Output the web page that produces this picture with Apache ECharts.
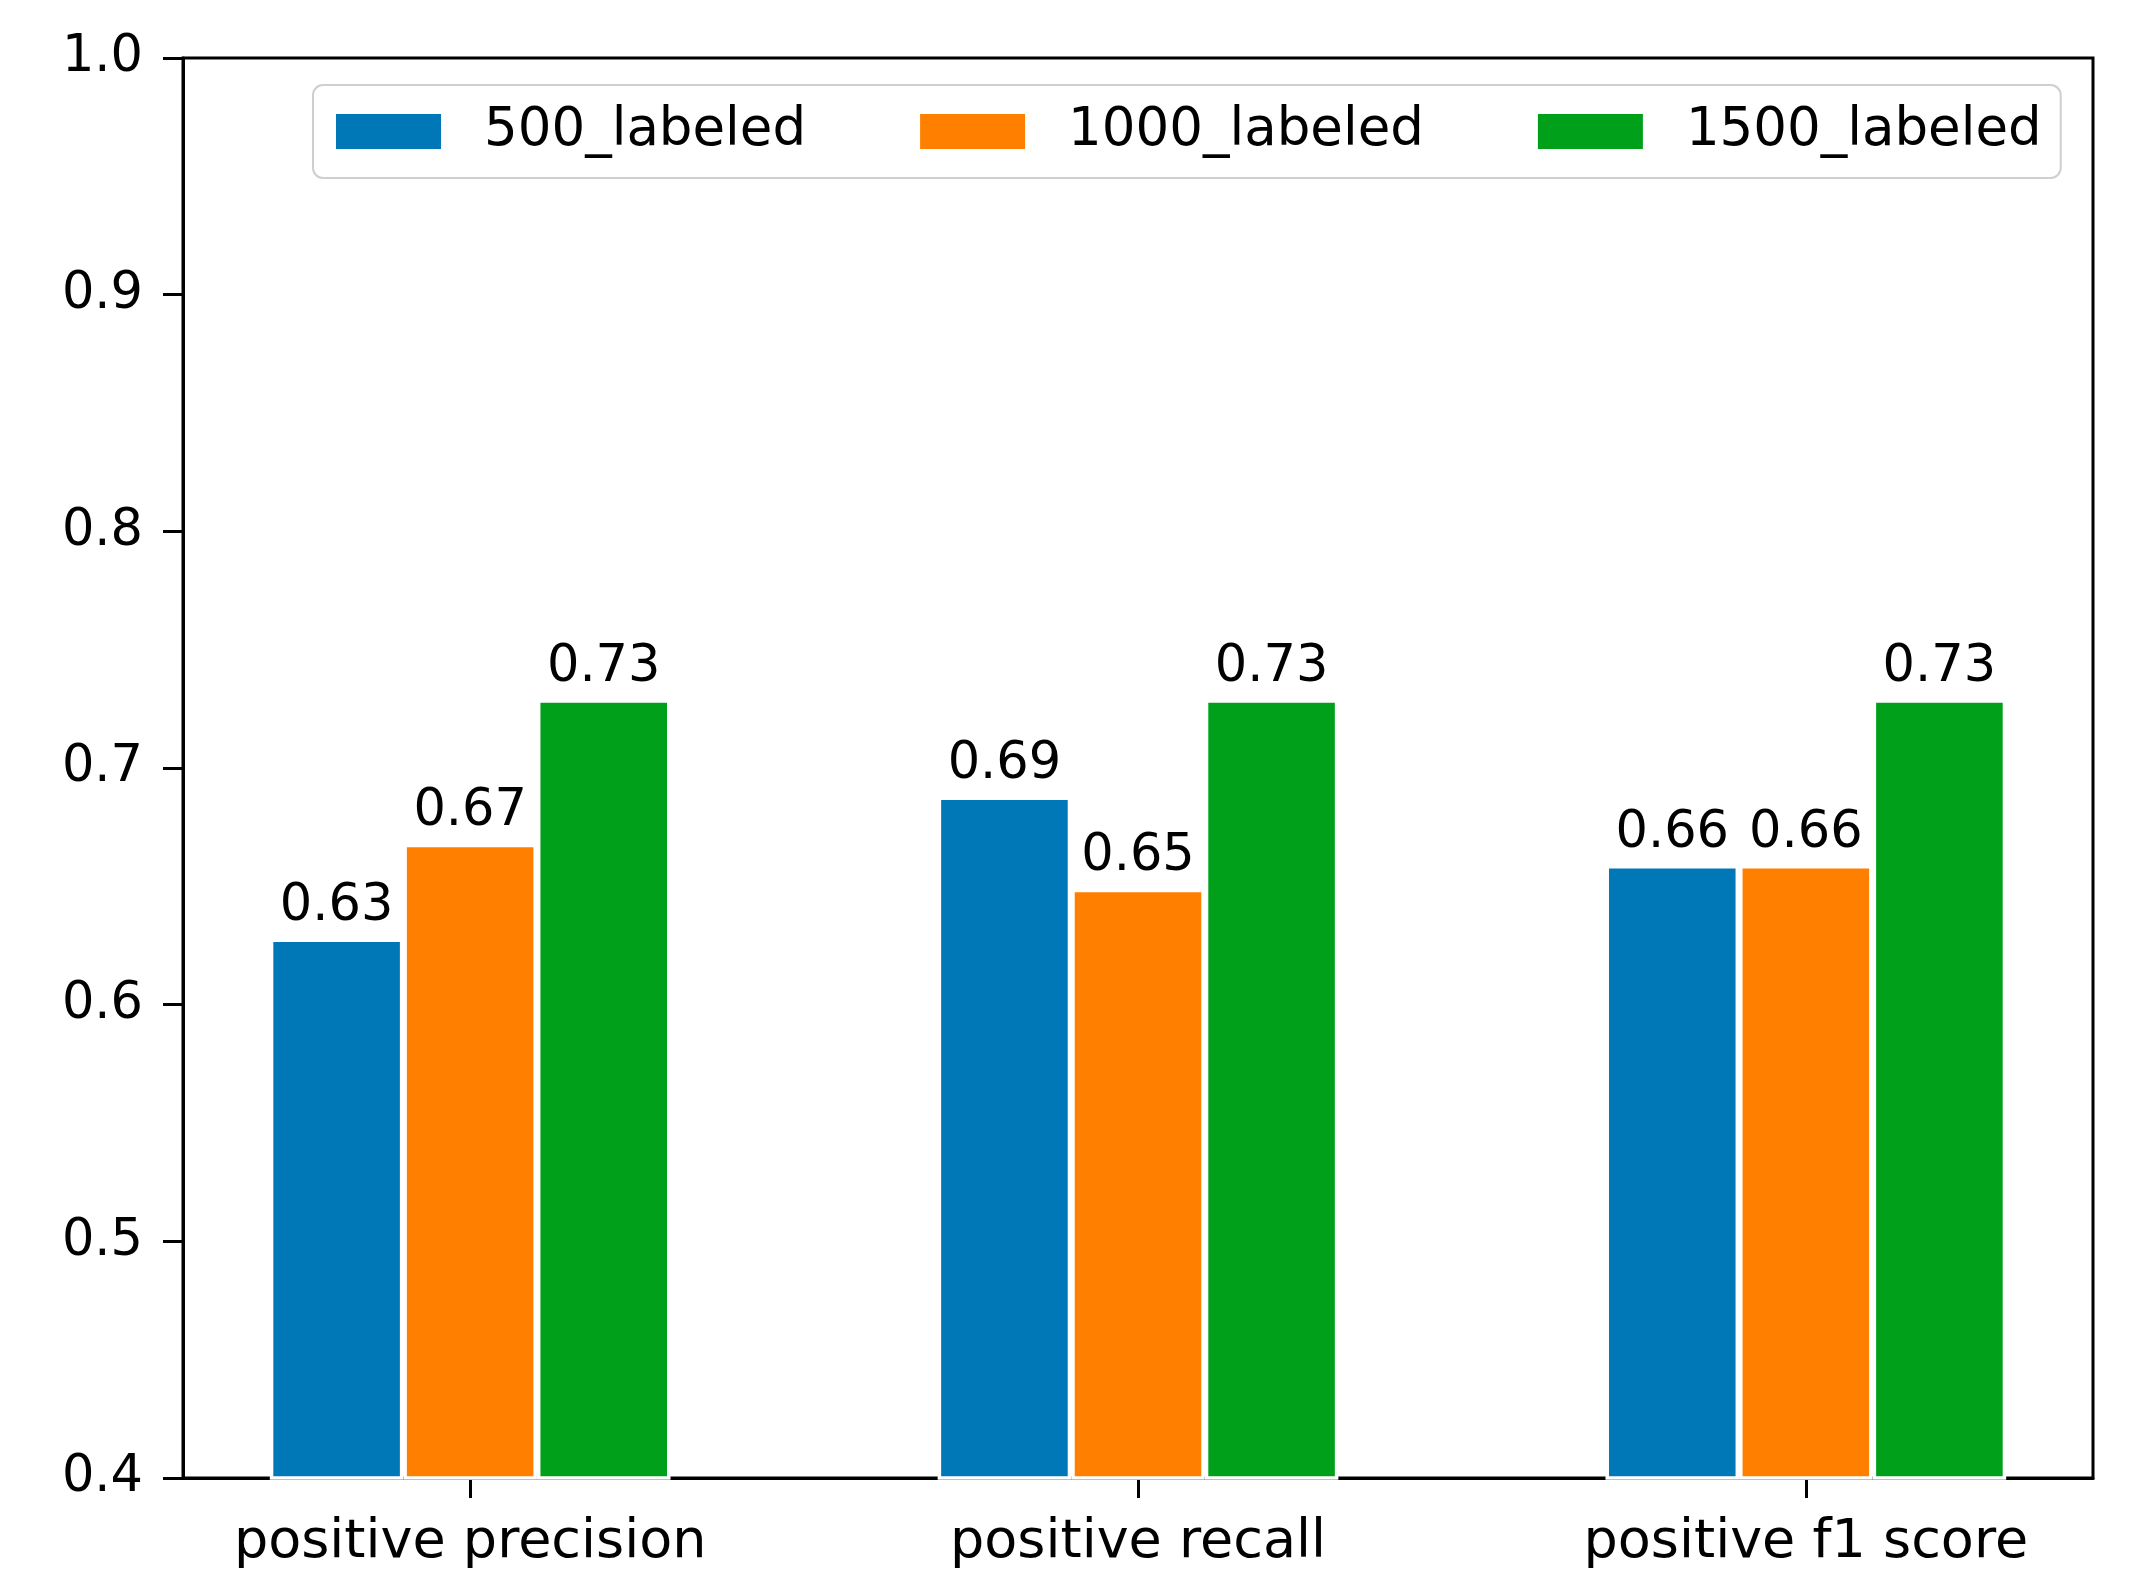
<!DOCTYPE html>
<html>
<head>
<meta charset="utf-8">
<script src="https://cdn.jsdelivr.net/npm/echarts@6/dist/echarts.min.js"></script>
<style>
html,body{margin:0;padding:0;background:#fff;}
#chart{width:2142px;height:1595px;}
</style>
</head>
<body>
<div id="chart"></div>
<script>
const categories = ['positive precision', 'positive recall', 'positive f1 score'];
const seriesNames = ['500_labeled', '1000_labeled', '1500_labeled'];
const values500 = [0.628, 0.688, 0.659];
const values1000 = [0.668, 0.649, 0.659];
const values1500 = [0.729, 0.729, 0.729];
const yTicks = [0.4, 0.5, 0.6, 0.7, 0.8, 0.9, 1.0];
const colors = ['#0077b6', '#ff7f00', '#00a01a'];

const FONT = 'DejaVu Sans';
const allValues = [values500, values1000, values1500];

function toPairs(arr) {
  return arr.map((v, i) => [i, v]);
}

const chart = echarts.init(document.getElementById('chart'), null, {renderer: 'canvas'});

const series = seriesNames.map((name, k) => ({
  name: name,
  type: 'bar',
  data: toPairs(allValues[k]),
  barWidth: '20%',
  barGap: '0%',
  itemStyle: {color: colors[k], borderColor: '#ffffff', borderWidth: 3.5},
  label: {
    show: true,
    position: 'top',
    distance: 6,
    formatter: p => p.value[1].toFixed(2),
    fontFamily: FONT,
    fontSize: 51,
    color: '#000'
  },
  emphasis: {disabled: true}
}));

chart.setOption({
  animation: false,
  backgroundColor: '#fff',
  textStyle: {fontFamily: FONT},
  grid: {
    left: 183, right: 49, top: 58, bottom: 117,
    show: true, borderColor: '#000', borderWidth: 3, backgroundColor: 'transparent'
  },
  legend: {
    data: seriesNames,
    left: 313, top: 85,
    orient: 'horizontal',
    icon: 'rect',
    itemWidth: 107, itemHeight: 37, itemGap: 112,
    padding: [20, 19, 20, 21],
    borderColor: '#cfcfcf', borderWidth: 2, borderRadius: 10,
    backgroundColor: '#fff',
    textStyle: {fontFamily: FONT, fontSize: 53, color: '#000', padding: [0, 0, 0, 37]}
  },
  xAxis: {
    type: 'value',
    min: -0.43, max: 2.43,
    splitLine: {show: false},
    axisLine: {show: true, onZero: false, lineStyle: {color: '#000', width: 3}},
    axisTick: {show: true, length: 20, lineStyle: {color: '#000', width: 3}, customValues: [0, 1, 2]},
    axisLabel: {
      customValues: [0, 1, 2],
      formatter: v => categories[Math.round(v)],
      fontFamily: FONT, fontSize: 54, color: '#000', margin: 38
    }
  },
  yAxis: {
    type: 'value',
    min: 0.4, max: 1.0, interval: 0.1,
    splitLine: {show: false},
    axisLine: {show: true, onZero: false, lineStyle: {color: '#000', width: 3}},
    axisTick: {show: true, length: 20, lineStyle: {color: '#000', width: 3}},
    axisLabel: {
      formatter: v => v.toFixed(1),
      fontFamily: FONT, fontSize: 51, color: '#000', margin: 40
    }
  },
  series: series
});
</script>
</body>
</html>
